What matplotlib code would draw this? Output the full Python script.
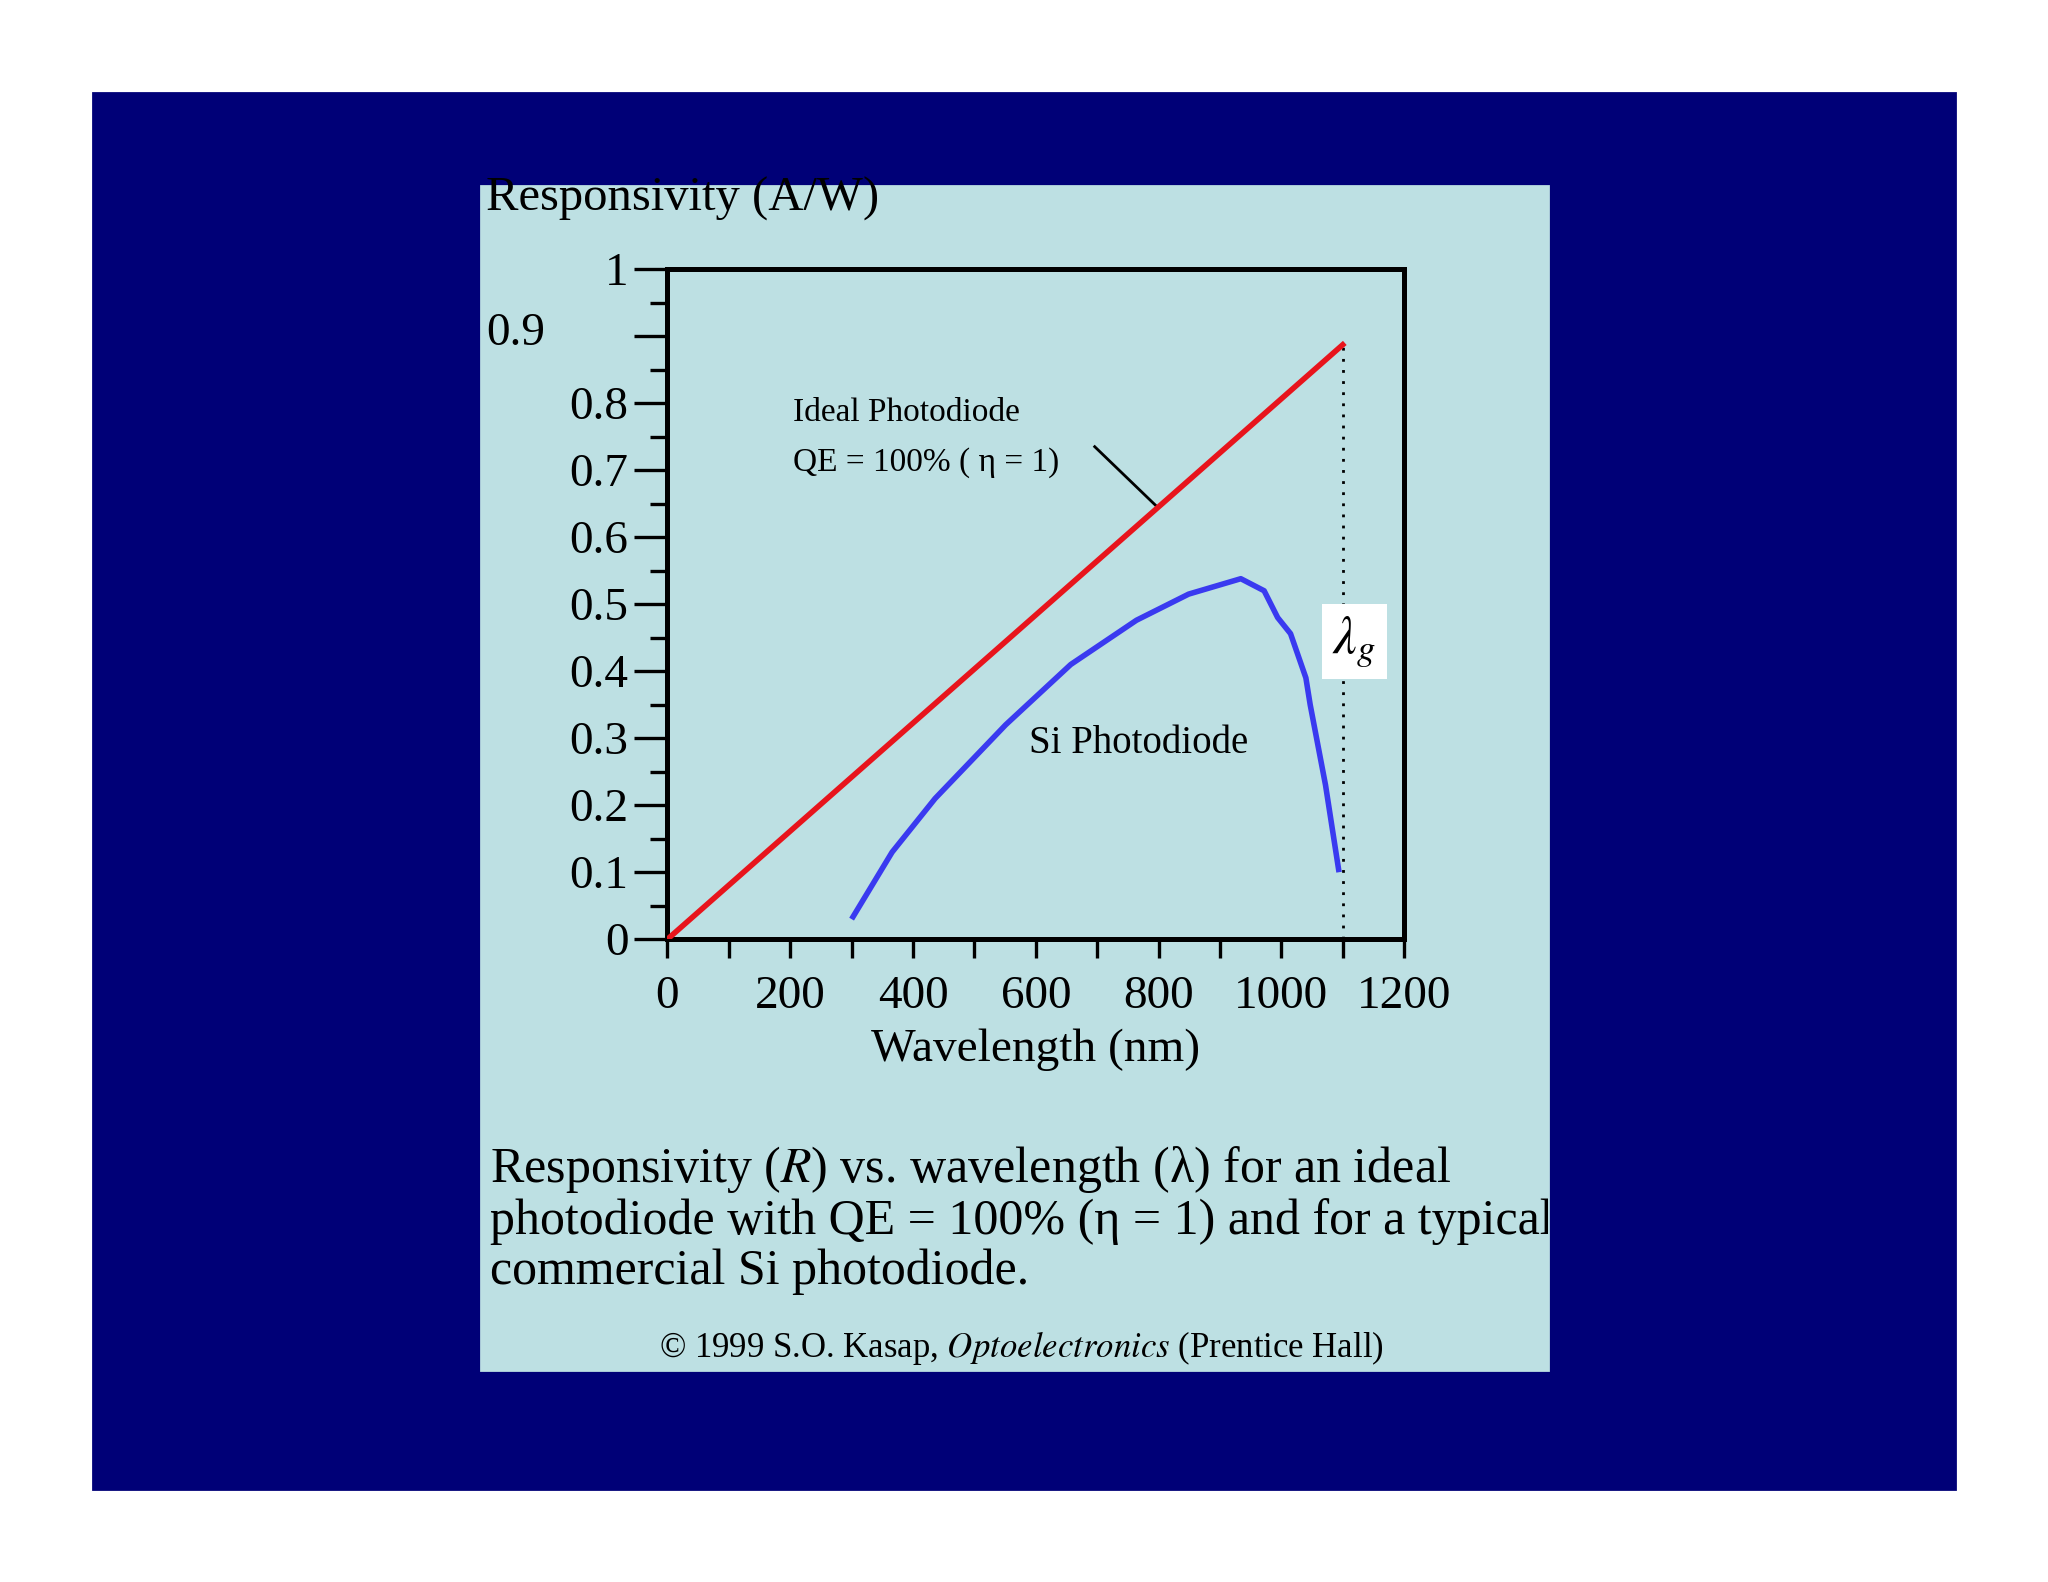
import matplotlib
matplotlib.use("Agg")
import matplotlib.pyplot as plt
from matplotlib.patches import Rectangle
from matplotlib.transforms import Bbox, TransformedBbox
import numpy as np

plt.rcParams['font.family'] = ['Liberation Serif', 'DejaVu Serif']
plt.rcParams['mathtext.fontset'] = 'stix'

ideal_wl = [0, 1100]
ideal_R = [0, 1100 / 1240]
si_wl = [300, 366, 436, 551, 657, 764, 849, 934, 972, 994, 1015, 1040, 1047, 1072, 1094]
si_R = [0.03, 0.13, 0.21, 0.32, 0.41, 0.476, 0.515, 0.538, 0.52, 0.48, 0.456, 0.39, 0.35, 0.23, 0.10]
lambda_g = 1100
yticks = [0, 0.1, 0.2, 0.3, 0.4, 0.5, 0.6, 0.7, 0.8, 0.9, 1]
ylabels = ['0', '0.1', '0.2', '0.3', '0.4', '0.5', '0.6', '0.7', '0.8', '', '1']
xticks = [0, 200, 400, 600, 800, 1000, 1200]

fig = plt.figure(figsize=(10.24, 7.91), dpi=200)
fig.patches.append(Rectangle((0.0453, 0.0586), 0.9094, 0.8828, transform=fig.transFigure, color='#000077', zorder=0))
panel = Rectangle((0.2347, 0.1338), 0.521, 0.7489, transform=fig.transFigure, color='#bde0e3', zorder=1)
fig.patches.append(panel)

ax = fig.add_axes([0.3259, 0.4063, 0.3597, 0.4236])
ax.set_zorder(3)
ax.set_facecolor('none')
ax.plot(ideal_wl, ideal_R, color='#e8141c', lw=2.0, zorder=3)
ax.plot(si_wl, si_R, color='#3a3af0', lw=2.0, zorder=3, solid_capstyle='butt')
ax.plot([lambda_g, lambda_g], [0, ideal_R[1]], color='black', lw=1.0, ls=(0, (1, 3)))
ax.set_xlim(0, 1200)
ax.set_ylim(0, 1)
ax.set_xticks(xticks)
ax.set_xticks(np.arange(0, 1201, 100), minor=True)
ax.set_yticks(yticks)
ax.set_yticklabels(ylabels)
ax.set_yticks(np.arange(0, 1.001, 0.05), minor=True)
for s in ax.spines.values():
    s.set_linewidth(1.8)
ax.tick_params(axis='y', which='major', direction='out', length=12, width=1.2, labelsize=17, pad=2)
ax.tick_params(axis='y', which='minor', direction='out', length=6, width=1.2)
ax.tick_params(axis='x', which='both', direction='out', length=7, width=1.2, labelsize=17, pad=6)
ax.set_xlabel('Wavelength (nm)', fontsize=17, labelpad=4)

ax.text(204, 0.786, 'Ideal Photodiode', fontsize=12, va='center')
ax.text(204, 0.711, 'QE = 100% ( η = 1)', fontsize=12, va='center')
ax.plot([696, 798], [0.735, 0.645], color='black', lw=1.0)
ax.text(589, 0.292, 'Si Photodiode', fontsize=14, va='center')
ax.text(1119, 0.444, r'$\lambda_g$', fontsize=19, ha='center', va='center',
        bbox=dict(boxstyle='square,pad=0.2', fc='white', ec='none'))

fig.text(0.2372, 0.789, '0.9', fontsize=17, va='center', zorder=5)
fig.text(0.2372, 0.874, 'Responsivity (A/W)', fontsize=17.5, va='center', zorder=5)

clipbox = TransformedBbox(Bbox([[0.2347, 0.1338], [0.7557, 0.8827]]), fig.transFigure)
caps = ['Responsivity ($\\it{R}$) vs. wavelength (λ) for an ideal',
        'photodiode with QE = 100% (η = 1) and for a typical',
        'commercial Si photodiode.']
for t, y in zip(caps, [0.261, 0.228, 0.196]):
    tx = fig.text(0.2392, y, t, fontsize=18, va='center', zorder=5)
    tx.set_clip_box(clipbox)
    tx.set_clip_on(True)
fig.text(0.4987, 0.148, '© 1999 S.O. Kasap, $\\it{Optoelectronics}$ (Prentice Hall)', fontsize=12.5,
         ha='center', va='center', zorder=5)

fig.savefig('out.png', dpi=200)
